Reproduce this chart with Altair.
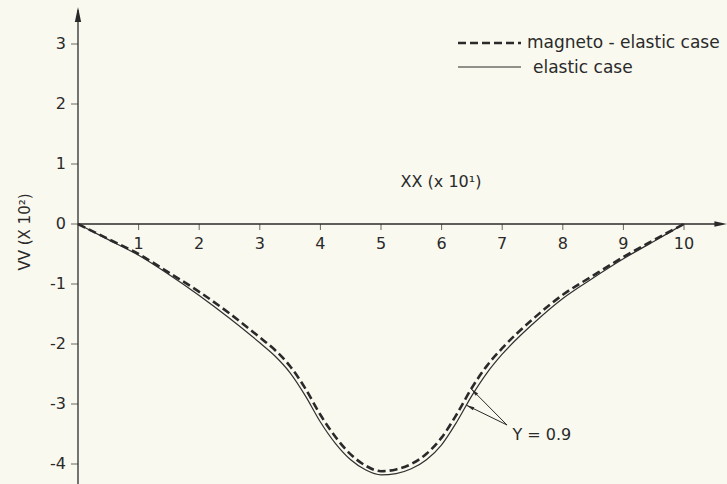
import altair as alt
import numpy as np
import pandas as pd

# Displacement curves along the beam, XX in units of 10^1, VV in units of 10^2
xx = [0, 0.5, 1, 1.5, 2, 2.5, 3, 3.25, 3.5, 3.75, 4, 4.25, 4.5, 4.75, 5,
      5.25, 5.5, 5.75, 6, 6.25, 6.5, 6.75, 7, 7.5, 8, 8.5, 9, 9.5, 10]
vv_magneto = [0, -0.25, -0.50, -0.81, -1.13, -1.49, -1.89, -2.10, -2.37, -2.74, -3.18,
              -3.55, -3.84, -4.03, -4.12, -4.09, -4.00, -3.83, -3.56, -3.17, -2.73,
              -2.36, -2.07, -1.59, -1.18, -0.86, -0.55, -0.27, 0]
vv_elastic = [0, -0.26, -0.52, -0.84, -1.19, -1.57, -1.98, -2.20, -2.48, -2.86, -3.30,
              -3.66, -3.93, -4.10, -4.18, -4.16, -4.08, -3.93, -3.68, -3.30, -2.86,
              -2.48, -2.17, -1.67, -1.24, -0.90, -0.58, -0.29, 0]

x_ticks = [1, 2, 3, 4, 5, 6, 7, 8, 9, 10]
y_ticks = [3, 2, 1, 0, -1, -2, -3, -4]
y_tick_labels = ["3", "2", "1", "0", "-1", "-2", "-3", "-4"]

legend_labels = ["magneto - elastic case", "elastic case"]
param_label = "Y = 0.9"
# pointer lines from the parameter label to the two curves
arrow_x0 = [7.08, 7.08]
arrow_y0 = [-3.35, -3.35]
arrow_x1 = [6.49, 6.41]
arrow_y1 = [-2.75, -3.02]

W, H = 727, 484
X_DOM = [-1.2871, 10.7096]
Y_DOM = [-4.3333, 3.7333]
INK = "#2a2a2a"
FONT = "DejaVu Sans"

xs = alt.Scale(domain=X_DOM, nice=False, zero=False)
ys = alt.Scale(domain=Y_DOM, nice=False, zero=False)

curves = pd.DataFrame({"xx": xx, "mag": vv_magneto, "ela": vv_elastic})
xt = pd.DataFrame({"x": x_ticks, "lab": [str(v) for v in x_ticks]})
yt = pd.DataFrame({"y": y_ticks, "lab": y_tick_labels})

px_x = W / (X_DOM[1] - X_DOM[0])
px_y = H / (Y_DOM[1] - Y_DOM[0])
arr = pd.DataFrame({"x0": arrow_x0, "y0": arrow_y0, "x1": arrow_x1, "y1": arrow_y1})
arr["ang"] = np.degrees(np.arctan2((arr.x1 - arr.x0) * px_x, (arr.y1 - arr.y0) * px_y)) % 360

X = lambda f: alt.X(f, scale=xs, axis=None)
Y = lambda f: alt.Y(f, scale=ys, axis=None)
X0 = alt.X(datum=0, scale=xs, axis=None)
Y0 = alt.Y(datum=0, scale=ys, axis=None)

one = pd.DataFrame({"k": [0]})
base = alt.Chart(one)

# axes
y_axis = base.mark_rule(color=INK, strokeWidth=1.3).encode(
    x=X0, y=alt.value(10), y2=alt.value(H))
x_axis = base.mark_rule(color=INK, strokeWidth=1.3).encode(
    y=Y0, x=X0, x2=alt.value(W - 4))
head = "M0,0L0.42,2L-0.42,2Z"
y_head = base.mark_point(shape=head, size=225, filled=True, color=INK, opacity=1).encode(
    x=X0, y=alt.value(7))
x_head = base.mark_point(shape=head, size=160, filled=True, color=INK, opacity=1, angle=90).encode(
    y=Y0, x=alt.value(W))

x_tick_marks = alt.Chart(xt).mark_tick(color=INK, thickness=1, size=6, orient="vertical", yOffset=3).encode(
    x=X("x:Q"), y=Y0)
x_tick_text = alt.Chart(xt).mark_text(font=FONT, fontSize=16, color=INK, baseline="middle", dy=20).encode(
    x=X("x:Q"), y=Y0, text="lab:N")
y_tick_marks = alt.Chart(yt).mark_tick(color=INK, thickness=1, size=7, orient="horizontal", xOffset=-3.5).encode(
    y=Y("y:Q"), x=X0)
y_tick_text = alt.Chart(yt).mark_text(font=FONT, fontSize=16, color=INK, align="right", baseline="middle", dx=-12).encode(
    y=Y("y:Q"), x=X0, text="lab:N")

y_title = base.mark_text(font=FONT, fontSize=15, color=INK, angle=270, baseline="middle").encode(
    x=alt.value(25), y=alt.value(232), text=alt.value("VV (X 10²)"))
x_title = base.mark_text(font=FONT, fontSize=16, color=INK, baseline="middle").encode(
    x=alt.value(441), y=alt.value(182), text=alt.value("XX (x 10¹)"))

# curves
elastic = alt.Chart(curves).mark_line(color="#303030", strokeWidth=1.2, interpolate="monotone").encode(
    x=X("xx:Q"), y=Y("ela:Q"))
magneto = alt.Chart(curves).mark_line(color=INK, strokeWidth=2.6, strokeDash=[8, 4], interpolate="monotone").encode(
    x=X("xx:Q"), y=Y("mag:Q"))

# legend
leg_dash = base.mark_rule(color=INK, strokeWidth=2.6, strokeDash=[8, 4]).encode(
    x=alt.value(458), x2=alt.value(521), y=alt.value(43))
leg_solid = base.mark_rule(color=INK, strokeWidth=1.2).encode(
    x=alt.value(458), x2=alt.value(521), y=alt.value(67))
leg_t1 = base.mark_text(font=FONT, fontSize=17, color=INK, align="left", baseline="middle").encode(
    x=alt.value(527), y=alt.value(43), text=alt.value(legend_labels[0]))
leg_t2 = base.mark_text(font=FONT, fontSize=17, color=INK, align="left", baseline="middle").encode(
    x=alt.value(533), y=alt.value(68), text=alt.value(legend_labels[1]))

# parameter annotation
arr_lines = alt.Chart(arr).mark_rule(color=INK, strokeWidth=1).encode(
    x=X("x0:Q"), y=Y("y0:Q"), x2="x1:Q", y2="y1:Q")
arr_heads = alt.Chart(arr).mark_point(shape=head, size=64, filled=True, color=INK, opacity=1).encode(
    x=X("x1:Q"), y=Y("y1:Q"), angle=alt.Angle("ang:Q", scale=None))
arr_text = base.mark_text(font=FONT, fontSize=16, color=INK, align="left", baseline="middle").encode(
    x=alt.X(datum=7.17, scale=xs, axis=None), y=alt.Y(datum=-3.52, scale=ys, axis=None), text=alt.value(param_label))

chart = alt.layer(
    y_axis, x_axis, y_head, x_head, x_tick_marks, x_tick_text, y_tick_marks, y_tick_text,
    y_title, x_title, elastic, magneto, leg_dash, leg_solid, leg_t1, leg_t2,
    arr_lines, arr_heads, arr_text,
).properties(
    width=W, height=H, padding=0, autosize=alt.AutoSizeParams(type="none"), background="#f9f9ef",
).configure_view(stroke=None)

chart.save("out.html", embed_options={"renderer": "svg", "actions": False})
